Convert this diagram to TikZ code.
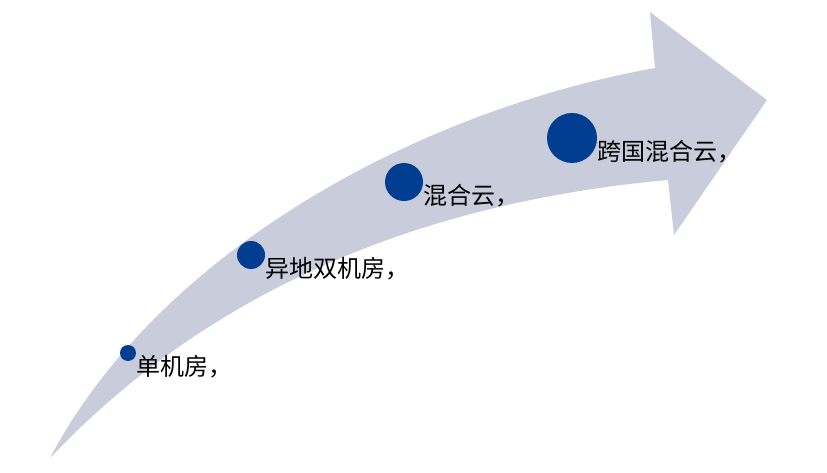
\documentclass[tikz,border=0pt]{standalone}
\usepackage{fontspec}
\setmainfont{Noto Sans CJK SC}
\usepackage{tikz}
\usetikzlibrary{positioning}

\definecolor{arrowgray}{HTML}{C9CDDB}
\definecolor{dotblue}{HTML}{013E92}

\begin{document}
\begin{tikzpicture}[x = 1pt, y = -1pt,
		dot/.style = {circle, fill = dotblue, inner sep = 0pt},
		lbl/.style = {anchor = north west, inner sep = 0pt, font = \fontsize{24}{24}\selectfont}]
			\useasboundingbox (0,0) rectangle (827,473);

			% the arrow
			\fill[arrowgray] (50,458) .. controls (160,250) and (420,110) .. (655,68)
				-- (650,12) -- (767,100) -- (674,235) -- (668,180)
				.. controls (390,205) and (190,310) .. (50,458) -- cycle;

			\node (C1) [dot, minimum size = 16pt] at (128,353) {};
			\node (C2) [dot, minimum size = 28pt] at (251,255) {};
			\node (C3) [dot, minimum size = 38pt] at (404,182) {};
			\node (C4) [dot, minimum size = 50pt] at (572,138) {};

			\node (L1) [lbl] at ([yshift = -2pt]C1.east) {单机房，};
			\node (L2) [lbl] at ([yshift = -2pt]C2.east) {异地双机房，};
			\node (L3) [lbl] at ([yshift = -2pt]C3.east) {混合云，};
			\node (L4) [lbl] at ([yshift = -2pt]C4.east) {跨国混合云，};

		\end{tikzpicture}
\end{document}
